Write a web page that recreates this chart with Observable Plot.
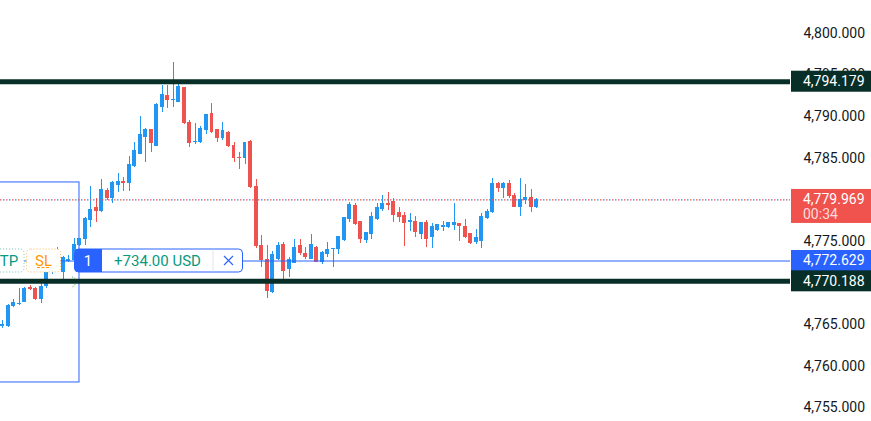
<!DOCTYPE html>
<html><head><meta charset="utf-8">
<script src="https://cdn.jsdelivr.net/npm/d3@7"></script>
<script src="https://cdn.jsdelivr.net/npm/@observablehq/plot@0.6"></script>
<style>html,body{margin:0;padding:0;background:#fff;} svg{display:block;}</style>
</head><body><div id="chart"></div>
<script>
// ---- data (prices) ----
const opens = [4764.82,4764.76,4767.28,4767.46,4767.76,4769.33,4769.21,4768.01,4769.57,4771.25,
4772.33,4771.25,4772.69,4772.81,4774.50,4775.22,4777.50,4779.06,4778.58,4780.99,
4780.26,4781.71,4782.07,4781.95,4783.99,4785.55,4787.48,4788.32,4786.51,4791.08,
4792.52,4791.98,4791.80,4793.37,4789.16,4786.88,4786.99,4788.32,4790.24,4788.32,
4787.36,4787.96,4786.51,4785.07,4784.95,4786.99,4781.47,4774.38,4772.81,4768.85,
4772.93,4774.50,4771.61,4772.45,4774.38,4773.53,4772.93,4774.25,4772.57,4773.53,
4774.07,4774.13,4775.10,4777.62,4779.30,4777.26,4775.10,4775.82,4777.62,4778.94,
4779.54,4779.78,4778.34,4777.98,4777.26,4777.26,4775.82,4777.14,4775.46,4776.30,
4776.72,4776.66,4776.90,4777.02,4776.66,4775.82,4774.86,4774.98,4777.74,4778.46,
4781.83,4781.35,4781.83,4780.50,4779.18,4780.02,4780.26,4779.18];
const highs = [4765.48,4767.40,4768.01,4769.33,4769.45,4769.69,4769.45,4769.93,4771.49,4772.93,
4774.25,4773.17,4773.29,4775.34,4775.34,4777.86,4781.59,4780.14,4782.43,4781.35,
4782.19,4783.15,4782.67,4785.19,4786.88,4790.00,4788.56,4788.44,4791.56,4793.73,
4793.73,4796.49,4793.97,4793.49,4789.52,4789.16,4788.80,4790.24,4791.56,4788.44,
4789.28,4788.20,4786.88,4785.67,4786.88,4787.12,4782.43,4775.70,4774.50,4773.77,
4774.86,4774.86,4773.05,4775.22,4775.22,4774.25,4775.82,4774.38,4773.77,4774.86,
4774.19,4775.58,4777.86,4779.66,4779.54,4777.38,4776.06,4778.46,4779.54,4780.50,
4780.87,4780.14,4779.06,4778.46,4778.34,4777.98,4777.26,4777.50,4777.14,4777.02,
4777.38,4777.26,4779.54,4777.14,4777.62,4775.94,4776.42,4778.34,4778.82,4782.55,
4782.07,4782.07,4782.31,4780.74,4782.55,4781.83,4781.23,4780.14];
const lows = [4764.52,4764.64,4767.04,4767.34,4767.64,4769.09,4767.88,4767.52,4769.33,4771.01,
4771.49,4769.93,4772.45,4772.45,4774.38,4774.50,4776.66,4777.26,4778.46,4779.90,
4779.54,4780.87,4780.99,4780.99,4783.87,4785.43,4784.47,4785.67,4786.39,4790.48,
4790.96,4791.08,4791.68,4789.04,4786.27,4786.69,4786.76,4787.84,4787.96,4786.88,
4787.12,4786.27,4784.47,4783.63,4784.23,4781.35,4774.13,4771.85,4768.13,4768.73,
4772.69,4770.41,4770.65,4772.33,4773.29,4772.81,4772.81,4772.45,4772.21,4773.05,
4771.85,4773.41,4774.98,4777.26,4776.90,4774.74,4774.74,4775.22,4777.50,4778.58,
4778.70,4777.26,4777.26,4774.38,4776.18,4775.46,4775.22,4774.25,4774.13,4776.18,
4776.18,4776.54,4776.30,4774.98,4775.34,4774.62,4774.62,4774.13,4777.62,4778.34,
4780.87,4780.14,4780.14,4779.06,4777.98,4779.42,4778.46,4778.94];
const closes = [4764.94,4767.28,4767.58,4767.52,4769.21,4769.23,4768.01,4769.45,4771.25,4772.33,
4771.73,4773.05,4772.81,4774.50,4775.22,4777.62,4778.82,4778.58,4781.11,4780.26,
4781.95,4782.07,4781.98,4784.11,4785.91,4787.72,4788.32,4786.76,4791.44,4792.64,
4792.04,4792.04,4793.49,4789.16,4786.76,4786.94,4788.44,4790.12,4788.08,4787.36,
4788.20,4786.51,4785.07,4784.99,4786.76,4781.47,4774.38,4772.81,4768.97,4773.41,
4774.38,4771.37,4772.81,4774.25,4773.65,4773.17,4774.50,4772.57,4773.65,4774.01,
4774.13,4775.46,4777.74,4779.42,4777.02,4775.22,4775.94,4777.86,4779.06,4779.54,
4779.42,4778.10,4777.86,4777.14,4777.38,4776.06,4777.14,4775.22,4776.66,4776.90,
4776.78,4777.14,4777.14,4776.78,4775.46,4774.74,4775.34,4777.86,4778.46,4781.83,
4781.35,4781.83,4780.50,4779.18,4780.02,4780.26,4779.18,4779.97];
const yTicks = [4755,4760,4765,4770,4775,4780,4785,4790,4795,4800];
const levelPrices = [4794.179, 4770.188];
const lastPrice = 4779.969;
const countdown = "00:34";
const orderPrice = 4772.629;
const orderQty = "1";
const orderPnl = "+734.00 USD";
const tpText = "TP", slText = "SL";
const boxStart = -3, boxEnd = 13.93, boxTop = 4782.07, boxBottom = 4758.03;

// ---- styles ----
const UP = "#2196f3", DOWN = "#ef5350", LEVEL = "#072f27", ORDER = "#2962ff";
const FONT = "Roboto, sans-serif";
const candles = opens.map((o, i) => ({i, open: o, high: highs[i], low: lows[i], close: closes[i],
  col: closes[i] >= o ? UP : DOWN}));
const fmt = d3.format(",.3f");

const plot = Plot.plot({
  width: 871, height: 421,
  marginLeft: 0, marginRight: 81, marginTop: 0, marginBottom: 0,
  x: {domain: [-0.418, 143.09], axis: null},
  y: {domain: [4753.34, 4803.94], axis: null},
  color: {type: "identity"},
  style: {fontFamily: FONT, fontSize: "14px", background: "#fff", color: "#131722"},
  marks: [
    Plot.rect([{x1: boxStart, x2: boxEnd, y1: boxBottom, y2: boxTop}],
      {x1: "x1", x2: "x2", y1: "y1", y2: "y2", fill: "none", stroke: ORDER, strokeWidth: 1}),
    Plot.ruleX(candles, {x: "i", y1: "low", y2: "high", stroke: "col", strokeWidth: 1, shapeRendering: "crispEdges"}),
    Plot.rect(candles, {x1: d => d.i - 0.36, x2: d => d.i + 0.36, y1: "open", y2: "close", fill: "col",
      insetTop: -0.5, insetBottom: -0.5, shapeRendering: "crispEdges"}),
    Plot.ruleY([orderPrice], {stroke: ORDER, strokeWidth: 1}),
    Plot.ruleY([lastPrice], {stroke: DOWN, strokeWidth: 1.2, strokeDasharray: "1.5,4.5"}),
    Plot.ruleY([lastPrice], {stroke: UP, strokeWidth: 1.2, strokeDasharray: "1.5,4.5", strokeDashoffset: -3}),
    Plot.ruleY(levelPrices, {stroke: LEVEL, strokeWidth: 5}),
    Plot.axisY(yTicks, {anchor: "right", tickSize: 0, tickPadding: 13, tickFormat: fmt, fill: "#131722",
      fontSize: 14, label: null})
  ]
});
document.getElementById("chart").appendChild(plot);

// ---- price labels & order tag, positioned with Plot's y scale ----
const ys = plot.scale("y");
const svg = d3.select(plot);
const g = svg.append("g").attr("font-family", FONT).attr("text-anchor", "start");

function priceTag(price, fill, extra) {
  const yc = ys.apply(price);
  const h = extra ? 34 : 21;
  g.append("rect").attr("x", 791).attr("y", yc - 10.5).attr("width", 80).attr("height", h).attr("fill", fill);
  g.append("text").attr("x", 803).attr("y", yc).attr("dy", "0.35em").attr("font-size", 14)
    .attr("text-anchor", "start").attr("fill", "#fff").text(fmt(price));
  if (extra) g.append("text").attr("x", 803).attr("y", yc + 15).attr("dy", "0.35em").attr("font-size", 14)
    .attr("text-anchor", "start").attr("fill", "rgba(255,255,255,0.8)").text(extra);
}
priceTag(lastPrice, "#f0524d", countdown);
priceTag(orderPrice, ORDER);
levelPrices.forEach(p => priceTag(p, LEVEL));

// order tag on the left
const oy = ys.apply(orderPrice);
g.append("rect").attr("x", -10).attr("y", oy - 11.5).attr("width", 34).attr("height", 23).attr("rx", 4)
  .attr("fill", "#fff").attr("stroke", "#80cfc2").attr("stroke-dasharray", "1.2,1.8");
g.append("text").attr("x", 9).attr("y", oy).attr("dy", "0.36em").attr("text-anchor", "middle")
  .attr("font-size", 15).attr("fill", "#089981").text(tpText);
g.append("rect").attr("x", 26.5).attr("y", oy - 11.5).attr("width", 34).attr("height", 23).attr("rx", 4)
  .attr("fill", "#fff").attr("stroke", "#ffc46b").attr("stroke-dasharray", "1.2,1.8");
g.append("text").attr("x", 43.5).attr("y", oy).attr("dy", "0.36em").attr("text-anchor", "middle")
  .attr("font-size", 15).attr("fill", "#ff9800").text(slText);
g.append("line").attr("x1", 37).attr("x2", 50).attr("y1", oy + 7).attr("y2", oy + 7)
  .attr("stroke", "#ff9800").attr("stroke-width", 1.2).attr("stroke-dasharray", "3,1.5");
g.append("rect").attr("x", 74.5).attr("y", oy - 11.5).attr("width", 168).attr("height", 23).attr("rx", 4)
  .attr("fill", "#fff").attr("stroke", ORDER);
g.append("rect").attr("x", 74.5).attr("y", oy - 11.5).attr("width", 27).attr("height", 23).attr("rx", 4).attr("fill", ORDER);
g.append("rect").attr("x", 92).attr("y", oy - 11.5).attr("width", 10).attr("height", 23).attr("fill", ORDER);
g.append("text").attr("x", 88).attr("y", oy).attr("dy", "0.36em").attr("text-anchor", "middle")
  .attr("font-size", 15).attr("fill", "#fff").text(orderQty);
g.append("text").attr("x", 157.5).attr("y", oy).attr("dy", "0.36em").attr("text-anchor", "middle")
  .attr("font-size", 15).attr("fill", "#089981").text(orderPnl);
g.append("line").attr("x1", 213).attr("x2", 213).attr("y1", oy - 11).attr("y2", oy + 11).attr("stroke", "#dfe3f0");
g.append("path").attr("d", `M224,${oy - 4.5}L233,${oy + 4.5}M233,${oy - 4.5}L224,${oy + 4.5}`)
  .attr("stroke", ORDER).attr("stroke-width", 1.1).attr("fill", "none");
const ly = ys.apply(levelPrices[1]);
g.append("path").attr("d", `M72,${ly - 4}L75.5,${ly - 2}M75.5,${ly + 3}L72,${ly + 7}`)
  .attr("stroke", "#66bb6a").attr("stroke-width", 1).attr("stroke-dasharray", "1.5,1").attr("fill", "none");
</script>
</body></html>
